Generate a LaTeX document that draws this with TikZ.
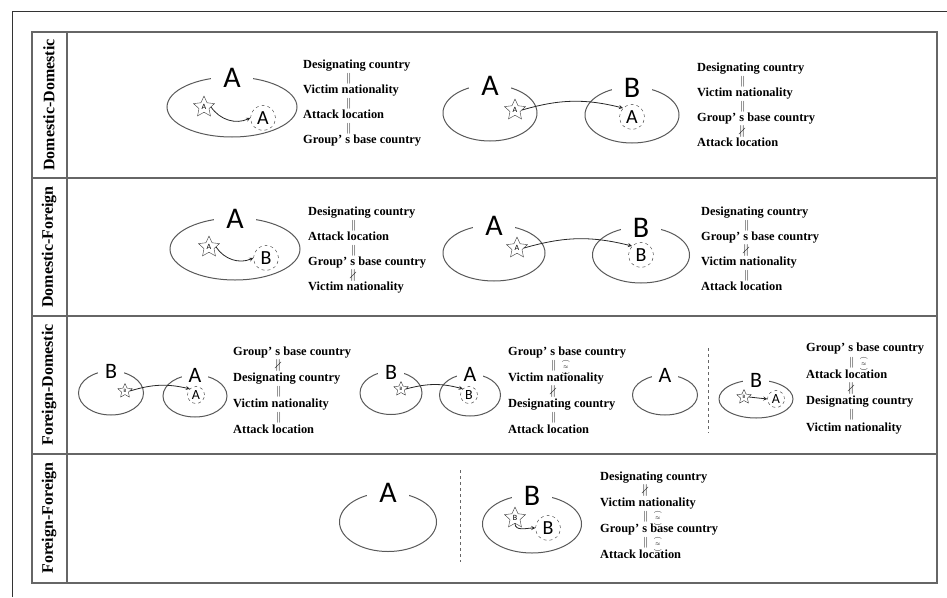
\documentclass[tikz,border=0pt]{standalone}
\usepackage{amsmath,amssymb}
\usepackage{fontspec}
\setmainfont{Liberation Serif}
\newfontfamily\lettfont{Carlito}
\usetikzlibrary{shapes.geometric}
\lineskiplimit=-50pt

% relation marks between the text lines
\newcommand{\eqsym}{\hspace*{43pt}{\fontsize{11}{11}\selectfont$\parallel$}}
\newcommand{\neqsym}{\hspace*{42pt}{\fontsize{12}{12}\selectfont$\nparallel$}}
\newcommand{\maysym}{\hspace*{43pt}{\fontsize{11}{11}\selectfont$\parallel\,\overset{\frown}{\underset{\smile}{\scriptscriptstyle\approx}}$}}

\begin{document}
\begin{tikzpicture}[x=1pt,y=-1pt,
  country/.style={draw=black!65,line width=1pt,ellipse,inner sep=0pt},
  letter/.style={fill=white,inner xsep=12pt,inner ysep=1pt,font=\lettfont\fontsize{30}{30}\selectfont},
  smallletter/.style={fill=white,inner xsep=7pt,inner ysep=1pt,font=\lettfont\fontsize{22}{22}\selectfont},
  group/.style={star,star points=5,star point ratio=2.1,draw=black!80,minimum size=22pt,inner sep=0pt,font=\lettfont\fontsize{8}{8}\selectfont},
  target/.style={circle,draw=black!80,dashed,minimum size=25pt,inner sep=0pt,font=\lettfont\fontsize{20}{20}\selectfont},
  rel/.style={anchor=north west,align=left,inner sep=0pt,font=\bfseries\fontsize{12.4}{12.5}\selectfont},
  rowlabel/.style={rotate=90,font=\bfseries\fontsize{16}{16}\selectfont},
  link/.style={->,>=stealth,black!85,line width=0.8pt}]
\useasboundingbox (0,0) rectangle (947,597);

% Frames
\draw[black!80] (12,597) -- (12,11) -- (947,11);
\draw[black!60,line width=1.2pt] (32,32) rectangle (937,583);
\draw[black!60,line width=1.2pt] (67,32) -- (67,583);
\draw[black!60,line width=1.2pt] (32,178) -- (937,178);
\draw[black!60,line width=1.2pt] (32,316) -- (937,316);
\draw[black!60,line width=1.2pt] (32,454) -- (937,454);

% Row labels
\node[rowlabel] (lab1) at (49,105) {Domestic-Domestic};
\node[rowlabel] (lab2) at (49,247) {Domestic-Foreign};
\node[rowlabel] (lab3) at (49,385) {Foreign-Domestic};
\node[rowlabel] (lab4) at (49,518) {Foreign-Foreign};

% Domestic-Domestic, attack at home
\node[country,minimum width=130pt,minimum height=60pt] (e11) at (232,107) {};
\node[letter] (l11) at ([yshift=-1pt]e11.north) {A};
\node[group] (s11) at (204,107) {A};
\node[target] (c11) at (263,118) {A};
\draw[link] (s11.east) to[bend right=40] (c11.west);
\node[rel] (t11) at (303,60) {Designating country\\\eqsym\\Victim nationality\\\eqsym\\Attack location\\\eqsym\\Group’ s base country};

% Domestic-Domestic, attack abroad
\node[country,minimum width=94pt,minimum height=56pt] (e12) at (490,113) {};
\node[letter] (l12) at ([yshift=-1pt]e12.north) {A};
\node[country,minimum width=94pt,minimum height=56pt] (e13) at (632,115) {};
\node[letter] (l13) at ([yshift=-1pt]e13.north) {B};
\node[group] (s12) at (515,110) {A};
\node[target] (c12) at (632,117) {A};
\draw[link] (s12.east) to[bend left=15] (c12.north west);
\node[rel] (t12) at (697,63) {Designating country\\\eqsym\\Victim nationality\\\eqsym\\Group’ s base country\\\neqsym\\Attack location};

% Domestic-Foreign, victim at home
\node[country,minimum width=130pt,minimum height=62pt] (e21) at (235,249) {};
\node[letter] (l21) at ([yshift=-1pt]e21.north) {A};
\node[group] (s21) at (209,247) {A};
\node[target] (c21) at (266,258) {B};
\draw[link] (s21.east) to[bend right=40] (c21.west);
\node[rel] (t21) at (308,207) {Designating country\\\eqsym\\Attack location\\\eqsym\\Group’ s base country\\\neqsym\\Victim nationality};

% Domestic-Foreign, attack abroad
\node[country,minimum width=102pt,minimum height=56pt] (e22) at (494,253) {};
\node[letter] (l22) at ([yshift=-1pt]e22.north) {A};
\node[country,minimum width=97pt,minimum height=56pt] (e23) at (641,255) {};
\node[letter] (l23) at ([yshift=-1pt]e23.north) {B};
\node[group] (s22) at (517,248) {A};
\node[target] (c22) at (641,255) {B};
\draw[link] (s22.east) to[bend left=15] (c22.north west);
\node[rel] (t22) at (701,207) {Designating country\\\eqsym\\Group’ s base country\\\neqsym\\Victim nationality\\\eqsym\\Attack location};

% Foreign-Domestic, own victim
\node[country,minimum width=65pt,minimum height=44pt] (e31) at (111,393) {};
\node[smallletter] (l31) at ([yshift=-1pt]e31.north) {B};
\node[country,minimum width=64pt,minimum height=42pt] (e32) at (195,396) {};
\node[smallletter] (l32) at ([yshift=-1pt]e32.north) {A};
\node[group,minimum size=15pt,font=\lettfont\fontsize{5}{5}\selectfont] (s31) at (125,391) {B};
\node[target,minimum size=17pt,font=\lettfont\fontsize{14}{14}\selectfont] (c31) at (196,395) {A};
\draw[link] (s31.east) to[bend left=15] (c31.north west);
\node[rel,font=\bfseries\fontsize{12.4}{13}\selectfont] (t31) at (233,347) {Group’ s base country\\\neqsym\\Designating country\\\eqsym\\Victim nationality\\\eqsym\\Attack location};

% Foreign-Domestic, foreign victim
\node[country,minimum width=62pt,minimum height=43pt] (e33) at (391,393) {};
\node[smallletter] (l33) at ([yshift=-1pt]e33.north) {B};
\node[country,minimum width=61pt,minimum height=42pt] (e34) at (470,395) {};
\node[smallletter] (l34) at ([yshift=-1pt]e34.north) {A};
\node[group,minimum size=15pt,font=\lettfont\fontsize{5}{5}\selectfont] (s32) at (401,389) {B};
\node[target,minimum size=17pt,font=\lettfont\fontsize{14}{14}\selectfont] (c32) at (469,395) {B};
\draw[link] (s32.east) to[bend left=15] (c32.north west);
\node[rel,font=\bfseries\fontsize{12.4}{13}\selectfont] (t32) at (508,347) {Group’ s base country\\\maysym\\Victim nationality\\\neqsym\\Designating country\\\eqsym\\Attack location};

% Foreign-Domestic, attack in the base country
\node[country,minimum width=65pt,minimum height=40pt] (e35) at (665,395) {};
\node[smallletter] (l35) at ([yshift=-1pt]e35.north) {A};
\coordinate (d3a) at (708,348);
\coordinate (d3b) at (708,433);
\draw[black!60,dashed,line width=1pt] (d3a) -- (d3b);
\node[country,minimum width=74pt,minimum height=38pt] (e36) at (756,399) {};
\node[smallletter] (l36) at ([yshift=-1pt]e36.north) {B};
\node[group,minimum size=15pt,font=\lettfont\fontsize{5}{5}\selectfont] (s33) at (744,397) {B};
\node[target,minimum size=17pt,font=\lettfont\fontsize{14}{14}\selectfont] (c33) at (776,399) {A};
\draw[link] (s33.east) -- (c33.west);
\node[rel,font=\bfseries\fontsize{12.4}{13.2}\selectfont] (t33) at (806,343) {Group’ s base country\\\maysym\\Attack location\\\neqsym\\Designating country\\\eqsym\\Victim nationality};

% Foreign-Foreign
\node[country,minimum width=97pt,minimum height=59pt] (e41) at (388,522) {};
\node[letter] (l41) at ([yshift=-1pt]e41.north) {A};
\coordinate (d4a) at (460,470);
\coordinate (d4b) at (460,562);
\draw[black!60,dashed,line width=1pt] (d4a) -- (d4b);
\node[country,minimum width=99pt,minimum height=58pt] (e42) at (532,524) {};
\node[letter] (l42) at ([yshift=-1pt]e42.north) {B};
\node[group] (s41) at (515,518) {B};
\node[target] (c41) at (548,528) {B};
\draw[link] (s41.south) to[out=-90,in=180] (c41.west);
\node[rel,font=\bfseries\fontsize{12.4}{13}\selectfont] (t41) at (600,472) {Designating country\\\neqsym\\Victim nationality\\\maysym\\Group’ s base country\\\maysym\\Attack location};
\end{tikzpicture}
\end{document}
